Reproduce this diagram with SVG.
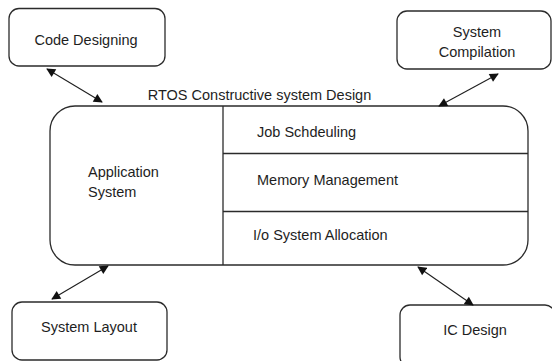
<svg xmlns="http://www.w3.org/2000/svg" width="552" height="361" viewBox="0 0 552 361">
<style>
.box{fill:#fff;stroke:#2b2b2b;stroke-width:1.3}
.ln{stroke:#2b2b2b;stroke-width:1.3;fill:none}
.t{font-family:"Liberation Sans",Arial,sans-serif;font-size:14.5px;fill:#1e1e1e}
.m{text-anchor:middle}
.conn{stroke:#1e1e1e;stroke-width:1.1;fill:none;marker-start:url(#ah);marker-end:url(#ah)}
</style>
<defs>
<marker id="ah" viewBox="0 0 10 10" refX="9" refY="5" markerWidth="10" markerHeight="9" markerUnits="userSpaceOnUse" orient="auto-start-reverse">
<path d="M0,0 L10,5 L0,10 z" fill="#111"/>
</marker>
</defs>
<rect width="552" height="361" fill="#fff"/>

<g id="main">
<rect class="box" x="50" y="106" width="478" height="159" rx="25" ry="25"/>
<line class="ln" x1="223" y1="106" x2="223" y2="265"/>
<line class="ln" x1="223" y1="153.5" x2="528" y2="153.5"/>
<line class="ln" x1="223" y1="211.5" x2="528" y2="211.5"/>
<text class="t m" x="259.5" y="100">RTOS Constructive system Design</text>
<text class="t" x="88" y="177">Application</text>
<text class="t" x="88" y="197">System</text>
<text class="t" x="257" y="137">Job Schdeuling</text>
<text class="t" x="257" y="185">Memory Management</text>
<text class="t" x="253" y="240">I/o System Allocation</text>
</g>

<g id="code-designing">
<rect class="box" x="9" y="8.5" width="156" height="57.5" rx="10"/>
<text class="t m" x="86" y="45">Code Designing</text>
</g>

<g id="system-compilation">
<rect class="box" x="397" y="11" width="154" height="58" rx="10"/>
<text class="t m" x="477" y="37">System</text>
<text class="t m" x="477" y="57">Compilation</text>
</g>

<g id="system-layout">
<rect class="box" x="12" y="302" width="155" height="58" rx="10"/>
<text class="t m" x="89" y="332">System Layout</text>
</g>

<g id="ic-design">
<rect class="box" x="400" y="305" width="155" height="62" rx="10"/>
<text class="t m" x="475" y="335">IC Design</text>
</g>

<g id="connectors">
<line class="conn" x1="47" y1="69" x2="102" y2="102"/>
<line class="conn" x1="498" y1="74" x2="439" y2="106"/>
<line class="conn" x1="108" y1="266" x2="52" y2="299"/>
<line class="conn" x1="418" y1="267" x2="473" y2="305"/>
</g>
</svg>
